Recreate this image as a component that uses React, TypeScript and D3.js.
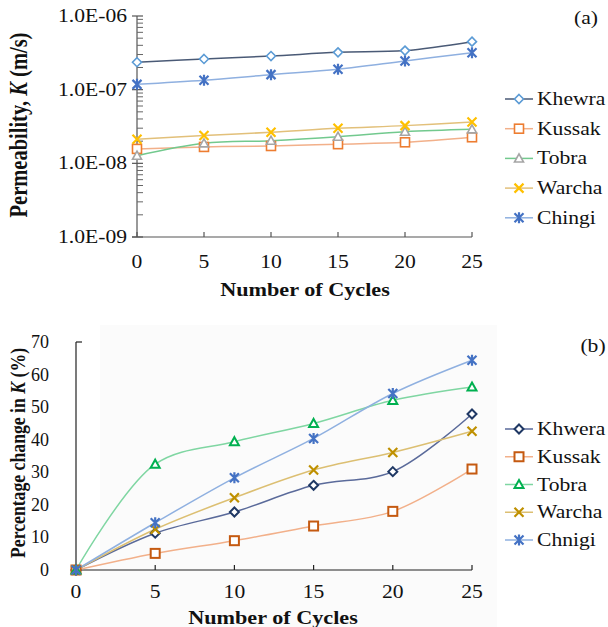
import React from 'react';
import * as d3 from 'd3';

const cycles = [0, 5, 10, 15, 20, 25];

// (a) permeability K (m/s)
const permNames = ['Khewra', 'Kussak', 'Tobra', 'Warcha', 'Chingi'];
const khewraK = [2.36e-7, 2.61e-7, 2.86e-7, 3.21e-7, 3.39e-7, 4.48e-7];
const kussakK = [1.57e-8, 1.67e-8, 1.72e-8, 1.82e-8, 1.93e-8, 2.26e-8];
const tobraK = [1.27e-8, 1.87e-8, 2.03e-8, 2.3e-8, 2.69e-8, 2.9e-8];
const warchaK = [2.12e-8, 2.38e-8, 2.64e-8, 2.99e-8, 3.25e-8, 3.65e-8];
const chingiK = [1.18e-7, 1.34e-7, 1.6e-7, 1.89e-7, 2.45e-7, 3.18e-7];
const permTicks = [1e-9, 1e-8, 1e-7, 1e-6];

// (b) percentage change in K
const pctNames = ['Khwera', 'Kussak', 'Tobra', 'Warcha', 'Chnigi'];
const khweraPct = [0, 11.3, 17.8, 26.0, 30.2, 47.9];
const kussakPct = [0, 5.1, 9.0, 13.5, 18.0, 31.0];
const tobraPct = [0, 32.5, 39.4, 45.0, 52.1, 56.2];
const warchaPct = [0, 12.5, 22.2, 30.7, 36.1, 42.6];
const chnigiPct = [0, 14.5, 28.3, 40.4, 54.2, 64.4];
const pctTicks = [0, 10, 20, 30, 40, 50, 60, 70];

const markers = ['diamond', 'square', 'triangle', 'x', 'star'];
const topLineColors = ['#4a5a76', '#f2b08a', '#72c98e', '#e2c07a', '#8fb0e0'];
const topMarkColors = ['#5b9bd5', '#ed7d31', '#a5a5a5', '#ffc000', '#4472c4'];
const botLineColors = ['#5a6a9a', '#f2b08a', '#7fd6a2', '#dcbf72', '#8fb0e0'];
const botMarkColors = ['#1f3864', '#c55a11', '#00b050', '#bf9000', '#4472c4'];

const FONT = '"Liberation Serif", "Times New Roman", serif';
const SX = 1.2;

const App = () => {
  const ref = React.useRef(null);

  React.useEffect(() => {
    const svg = d3.select(ref.current);
    svg.selectAll('*').remove();

    const text = (g, x, y, str, opts = {}) => {
      const t = g.append('text')
        .attr('transform', `translate(${x},${y}) scale(${SX},1)`)
        .attr('font-family', FONT)
        .attr('font-size', opts.size || 18)
        .attr('font-weight', opts.bold ? 'bold' : 'normal')
        .attr('text-anchor', opts.anchor || 'start')
        .attr('fill', '#111');
      t.text(str);
      return t;
    };

    const marker = (g, type, x, y, color, sw) => {
      const s = 4.5;
      if (type === 'diamond') {
        g.append('path').attr('d', `M${x},${y - s}L${x + s},${y}L${x},${y + s}L${x - s},${y}Z`)
          .attr('fill', 'white').attr('stroke', color).attr('stroke-width', sw);
      } else if (type === 'square') {
        g.append('rect').attr('x', x - s).attr('y', y - s).attr('width', 2 * s).attr('height', 2 * s)
          .attr('fill', 'white').attr('stroke', color).attr('stroke-width', sw);
      } else if (type === 'triangle') {
        g.append('path').attr('d', `M${x},${y - s}L${x + s},${y + s * 0.8}L${x - s},${y + s * 0.8}Z`)
          .attr('fill', 'white').attr('stroke', color).attr('stroke-width', sw);
      } else if (type === 'x') {
        g.append('path').attr('d', `M${x - s},${y - s}L${x + s},${y + s}M${x - s},${y + s}L${x + s},${y - s}`)
          .attr('stroke', color).attr('stroke-width', 2.2);
      } else {
        g.append('path').attr('d', `M${x - s},${y - s}L${x + s},${y + s}M${x - s},${y + s}L${x + s},${y - s}M${x},${y - s - 1}L${x},${y + s + 1}`)
          .attr('stroke', color).attr('stroke-width', 2.2);
      }
    };

    const drawLegend = (g, names, lineColors, markColors, x0, y0, dy, sw) => {
      names.forEach((name, i) => {
        const y = y0 + i * dy;
        g.append('line').attr('x1', x0).attr('x2', x0 + 28).attr('y1', y).attr('y2', y)
          .attr('stroke', lineColors[i]).attr('stroke-width', 1.5);
        marker(g, markers[i], x0 + 14, y, markColors[i], sw);
        text(g, x0 + 32, y + 6, name);
      });
    };

    // ---------- (a) ----------
    const ga = svg.append('g');
    const xA = d3.scaleLinear().domain([0, 25]).range([137, 472]);
    const yA = d3.scaleLog().domain([1e-9, 1e-6]).range([237, 16]);
    const permData = [khewraK, kussakK, tobraK, warchaK, chingiK];

    // y axis with log minor ticks
    ga.append('line').attr('x1', 137).attr('x2', 137).attr('y1', yA(1e-6)).attr('y2', yA(1e-9))
      .attr('stroke', '#555').attr('stroke-width', 1.2);
    for (let e = -9; e < -6; e++) {
      for (let m = 2; m <= 9; m++) {
        const y = yA(m * Math.pow(10, e));
        ga.append('line').attr('x1', 137).attr('x2', 143).attr('y1', y).attr('y2', y)
          .attr('stroke', '#666').attr('stroke-width', 1);
      }
    }
    permTicks.forEach(t => {
      ga.append('line').attr('x1', 132).attr('x2', 143).attr('y1', yA(t)).attr('y2', yA(t))
        .attr('stroke', '#555').attr('stroke-width', 1.2);
      const label = '1.0E-0' + Math.round(-Math.log10(t));
      text(ga, 127, yA(t) + 6, label, { anchor: 'end' });
    });
    // x axis
    ga.append('line').attr('x1', 132).attr('x2', xA(25)).attr('y1', 237).attr('y2', 237)
      .attr('stroke', '#555').attr('stroke-width', 1.2);
    cycles.forEach(c => {
      ga.append('line').attr('x1', xA(c)).attr('x2', xA(c)).attr('y1', 232).attr('y2', 237)
        .attr('stroke', '#555').attr('stroke-width', 1.2);
      text(ga, xA(c), 268, String(c), { anchor: 'middle' });
    });
    text(ga, 305, 296, 'Number of Cycles', { bold: true, size: 18.5, anchor: 'middle' });
    const ta = ga.append('text')
      .attr('transform', `translate(27,125) scale(${SX},1) rotate(-90)`)
      .attr('font-family', FONT).attr('font-size', 20.5).attr('font-weight', 'bold')
      .attr('text-anchor', 'middle').attr('fill', '#111');
    ta.append('tspan').text('Permeability, ');
    ta.append('tspan').attr('font-style', 'italic').text('K');
    ta.append('tspan').text(' (m/s)');
    text(ga, 586, 24, '(a)', { anchor: 'middle' });

    const lineA = d3.line()
      .x((d, i) => xA(cycles[i]))
      .y(d => yA(d))
      .curve(d3.curveCatmullRom);
    permData.forEach((vals, i) => {
      ga.append('path').datum(vals).attr('d', lineA).attr('fill', 'none')
        .attr('stroke', topLineColors[i]).attr('stroke-width', 1.5);
    });
    permData.forEach((vals, i) => {
      vals.forEach((v, j) => marker(ga, markers[i], xA(cycles[j]), yA(v), topMarkColors[i], 1.6));
    });
    drawLegend(ga, permNames, topLineColors, topMarkColors, 505, 99, 29.7, 1.6);

    // ---------- (b) ----------
    const gb = svg.append('g');
    gb.append('rect').attr('x', 100).attr('y', 325).attr('width', 397).attr('height', 302)
      .attr('fill', '#fbfbfb');
    const xB = d3.scaleLinear().domain([0, 25]).range([76, 472]);
    const yB = d3.scaleLinear().domain([0, 70]).range([570, 342]);
    const pctData = [khweraPct, kussakPct, tobraPct, warchaPct, chnigiPct];

    gb.append('line').attr('x1', 76).attr('x2', 76).attr('y1', yB(70)).attr('y2', yB(0))
      .attr('stroke', '#222').attr('stroke-width', 1.2);
    gb.append('line').attr('x1', 76).attr('x2', 82).attr('y1', yB(70)).attr('y2', yB(70))
      .attr('stroke', '#222').attr('stroke-width', 1.2);
    pctTicks.forEach(t => {
      gb.append('text').attr('x', 49).attr('y', yB(t) + 6)
        .attr('font-family', FONT).attr('font-size', 18).attr('text-anchor', 'end')
        .attr('fill', '#111').text(String(t));
    });
    gb.append('line').attr('x1', 76).attr('x2', xB(25)).attr('y1', 570).attr('y2', 570)
      .attr('stroke', '#222').attr('stroke-width', 1.2);
    cycles.forEach(c => {
      gb.append('line').attr('x1', xB(c)).attr('x2', xB(c)).attr('y1', 565).attr('y2', 570)
        .attr('stroke', '#222').attr('stroke-width', 1.2);
      text(gb, xB(c), 598, String(c), { anchor: 'middle' });
    });
    text(gb, 273, 624, 'Number of Cycles', { bold: true, size: 18.5, anchor: 'middle' });
    const tb = gb.append('text')
      .attr('transform', `translate(25,453) scale(${SX},1) rotate(-90)`)
      .attr('font-family', FONT).attr('font-size', 17.7).attr('font-weight', 'bold')
      .attr('text-anchor', 'middle').attr('fill', '#111');
    tb.append('tspan').text('Percentage change in ');
    tb.append('tspan').attr('font-style', 'italic').text('K');
    tb.append('tspan').text(' (%)');
    text(gb, 593, 352, '(b)', { anchor: 'middle' });

    const lineB = d3.line()
      .x((d, i) => xB(cycles[i]))
      .y(d => yB(d))
      .curve(d3.curveCatmullRom);
    pctData.forEach((vals, i) => {
      gb.append('path').datum(vals).attr('d', lineB).attr('fill', 'none')
        .attr('stroke', botLineColors[i]).attr('stroke-width', 1.5);
    });
    pctData.forEach((vals, i) => {
      vals.forEach((v, j) => marker(gb, markers[i], xB(cycles[j]), yB(v), botMarkColors[i], 2));
    });
    drawLegend(gb, pctNames, botLineColors, botMarkColors, 505, 429, 27.75, 2);
  }, []);

  return (
    <svg ref={ref} width="608" height="627"
      style={{ position: 'absolute', left: 0, top: 0, background: 'white' }}></svg>
  );
};

export default App;
